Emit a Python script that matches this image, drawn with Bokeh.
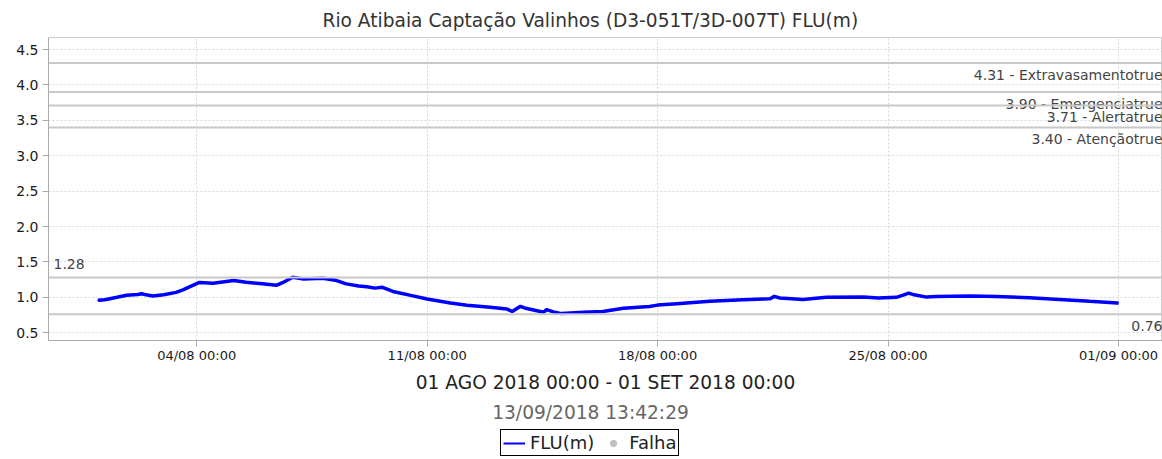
import pandas as pd
from bokeh.plotting import figure
from bokeh.layouts import column
from bokeh.models import (Range1d, FixedTicker, DatetimeTickFormatter, PrintfTickFormatter,
                          Span, Legend, LegendItem, ColumnDataSource)
from bokeh.core.properties import value
from bokeh.embed import file_html
from bokeh.resources import INLINE

# ---------------- data ----------------
times = [
    "2018-08-01 00:00", "2018-08-01 01:00", "2018-08-01 05:00", "2018-08-01 14:00",
    "2018-08-01 21:00", "2018-08-02 05:00", "2018-08-02 08:00", "2018-08-02 11:00",
    "2018-08-02 16:00", "2018-08-03 00:00", "2018-08-03 09:00", "2018-08-03 14:00",
    "2018-08-03 22:00", "2018-08-04 02:00", "2018-08-04 12:00", "2018-08-05 03:00",
    "2018-08-05 12:00", "2018-08-06 00:00", "2018-08-06 10:00", "2018-08-06 15:00",
    "2018-08-06 22:00", "2018-08-07 06:00", "2018-08-07 20:00", "2018-08-08 06:00",
    "2018-08-08 13:00", "2018-08-08 22:00", "2018-08-09 04:00", "2018-08-09 10:00",
    "2018-08-09 15:00", "2018-08-09 23:00", "2018-08-10 12:00", "2018-08-11 00:00",
    "2018-08-11 17:00", "2018-08-12 05:00", "2018-08-12 22:00", "2018-08-13 10:00",
    "2018-08-13 14:00", "2018-08-13 20:00", "2018-08-13 23:00", "2018-08-14 13:00",
    "2018-08-14 15:00", "2018-08-14 20:00", "2018-08-15 02:00", "2018-08-15 18:00",
    "2018-08-16 08:00", "2018-08-16 23:00", "2018-08-17 18:00", "2018-08-18 00:00",
    "2018-08-18 14:00", "2018-08-19 14:00", "2018-08-20 14:00", "2018-08-21 10:00",
    "2018-08-21 13:00", "2018-08-21 17:00", "2018-08-22 10:00", "2018-08-23 03:00",
    "2018-08-24 06:00", "2018-08-24 17:00", "2018-08-25 06:00", "2018-08-25 11:00",
    "2018-08-25 15:00", "2018-08-25 19:00", "2018-08-26 04:00", "2018-08-26 11:00",
    "2018-08-27 12:00", "2018-08-28 07:00", "2018-08-29 07:00", "2018-08-30 08:00",
    "2018-08-31 03:00", "2018-08-31 23:00", "2018-09-01 00:00",
]
flu = [
    0.97, 0.96, 0.965, 1.00,
    1.03, 1.04, 1.05, 1.035,
    1.02, 1.035, 1.07, 1.105,
    1.175, 1.21, 1.20, 1.237,
    1.213, 1.19, 1.17, 1.21,
    1.283, 1.26, 1.27, 1.237,
    1.19, 1.16, 1.15, 1.13,
    1.143, 1.083, 1.027, 0.976,
    0.92, 0.887, 0.86, 0.836,
    0.80, 0.873, 0.85, 0.79,
    0.826, 0.794, 0.77, 0.79,
    0.80, 0.845, 0.87, 0.89,
    0.91, 0.943, 0.966, 0.98,
    1.013, 0.99, 0.97, 1.0,
    1.003, 0.99, 1.0, 1.03,
    1.06, 1.035, 1.003, 1.013,
    1.02, 1.013, 0.994, 0.966,
    0.943, 0.92, 0.915,
]

# reference lines (value, label text, label side)
ref_values = [4.31, 3.90, 3.71, 3.40, 1.28, 0.76]
ref_labels = ["4.31 - Extravasamentotrue", "3.90 - Emergenciatrue", "3.71 - Alertatrue",
              "3.40 - Atençãotrue", "1.28", "0.76"]
ref_sides = ["right", "right", "right", "right", "left", "right"]
ref_offsets = [12, 12, 12, 12, -13, 12]

x_ticks = ["2018-08-04", "2018-08-11", "2018-08-18", "2018-08-25", "2018-09-01"]
y_ticks = [0.5, 1.0, 1.5, 2.0, 2.5, 3.0, 3.5, 4.0, 4.5]

title_text = "Rio Atibaia Captação Valinhos (D3-051T/3D-007T) FLU(m)"
period_text = "01 AGO 2018 00:00 - 01 SET 2018 00:00"
stamp_text = "13/09/2018 13:42:29"
legend_labels = ["FLU(m)", "Falha"]

FONT = "DejaVu Sans"
BIG = "18.6px"
W = 1162
LEFT = 48
H_MAIN = 395
H_LEG = 64

x_start = pd.Timestamp("2018-07-30 12:00")
x_end = pd.Timestamp("2018-09-02 08:00")

p = figure(width=W, height=H_MAIN, output_backend="svg", toolbar_location=None,
           x_axis_type="datetime",
           x_range=Range1d(x_start, x_end), y_range=Range1d(0.39, 4.67),
           min_border_left=LEFT, min_border_right=0, min_border_top=0, min_border_bottom=52)

p.title.text = title_text
p.title.align = "left"
p.title.offset = 274
p.title.text_font = FONT
p.title.text_font_size = BIG
p.title.text_font_style = "normal"
p.title.text_color = "#333333"
p.title.standoff = 14

p.background_fill_color = "white"
p.border_fill_color = "white"
p.outline_line_color = "#cccccc"

# grids
for g in (p.xgrid, p.ygrid):
    g.grid_line_color = "#d8d8d8"
    g.grid_line_dash = "2 2"
    g.grid_line_width = 1

# axes
p.xaxis.ticker = FixedTicker(ticks=[pd.Timestamp(t).value / 1e6 for t in x_ticks])
p.xaxis.formatter = DatetimeTickFormatter(days="%d/%m %H:%M", months="%d/%m %H:%M",
                                          hours="%d/%m %H:%M")
p.yaxis.ticker = FixedTicker(ticks=y_ticks)
p.yaxis.formatter = PrintfTickFormatter(format="%.1f")
for ax in (p.xaxis[0], p.yaxis[0]):
    ax.major_label_text_font = FONT
    ax.major_label_text_font_size = "13px"
    ax.major_label_text_color = "#1a1a1a"
    ax.axis_line_color = "#aaaaaa"
    ax.major_tick_line_color = "#aaaaaa"
    ax.major_tick_out = 6
    ax.major_tick_in = 0
    ax.minor_tick_line_color = None
p.yaxis.major_label_text_font_size = "14px"
p.xaxis.axis_label = period_text
p.xaxis.axis_label_text_font = FONT
p.xaxis.axis_label_text_font_size = BIG
p.xaxis.axis_label_text_font_style = "normal"
p.xaxis.axis_label_text_color = "#222222"
p.xaxis.axis_label_standoff = 6
p.xaxis.major_label_standoff = 1
p.yaxis.major_label_standoff = 4

# reference lines
for v in ref_values:
    p.add_layout(Span(location=v, dimension="width", line_color="#c8c8c8", line_width=2))

for v, lab, side, off in zip(ref_values, ref_labels, ref_sides, ref_offsets):
    if side == "right":
        p.text(x=[x_end], y=[v], text=[lab], text_align="right", text_baseline="middle",
               x_offset=0, y_offset=off, text_font=value(FONT), text_font_size="14px",
               text_color="#444444")
    else:
        p.text(x=[x_start], y=[v], text=[lab], text_align="left", text_baseline="middle",
               x_offset=5, y_offset=off, text_font=value(FONT), text_font_size="14px",
               text_color="#444444")

# data line
src = ColumnDataSource(dict(t=pd.to_datetime(times), v=flu))
p.line("t", "v", source=src, line_color="#0000ff", line_width=3.5)

# bottom strip: timestamp + legend (x range in page pixels, frame aligned with the plot)
lf = figure(width=W, height=H_LEG, output_backend="svg", toolbar_location=None,
            x_range=Range1d(LEFT, W), y_range=Range1d(0, H_LEG),
            min_border=0, outline_line_color=None)
lf.axis.visible = False
lf.grid.visible = False
lf.border_fill_color = "white"
lf.text(x=[590], y=[47], text=[stamp_text], text_align="center", text_baseline="middle",
        text_font=value(FONT), text_font_size=BIG, text_color="#666666")
# legend proxies, kept outside the visible range
r_line = lf.line(x=[-50, -40], y=[-50, -50], line_color="#0000ff", line_width=2)
r_fail = lf.scatter(x=[-50], y=[-50], marker="circle", size=10, fill_color="#c0c0c0",
                    line_color="#c0c0c0")
legend = Legend(items=[LegendItem(label=legend_labels[0], renderers=[r_line]),
                       LegendItem(label=legend_labels[1], renderers=[r_fail])],
                orientation="horizontal", location=(500 - LEFT, 3),
                label_text_font=FONT, label_text_font_size="18px",
                label_text_color="#222222",
                border_line_color="#000000", border_line_width=1, border_line_alpha=1,
                background_fill_color="white", background_fill_alpha=1,
                glyph_width=22, glyph_height=16, label_standoff=5, spacing=8,
                padding=2, margin=0)
lf.add_layout(legend, "center")

layout = column(p, lf, spacing=0)
open("out.html", "w").write(file_html(layout, INLINE))
